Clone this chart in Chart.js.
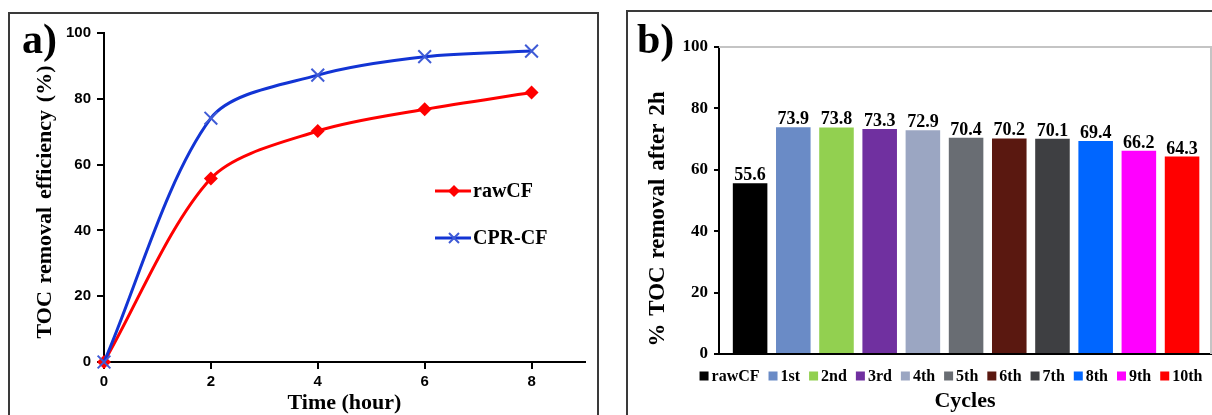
<!DOCTYPE html>
<html>
<head>
<meta charset="utf-8">
<script src="https://cdn.jsdelivr.net/npm/chart.js@4.4.0/dist/chart.umd.min.js"></script>
<style>
  body { margin: 0; background: #fff; width: 1212px; height: 415px; overflow: hidden; position: relative; }
  .panel { position: absolute; border: 2px solid #3a3a3a; box-sizing: border-box; }
  #panelA { left: 8px; top: 12px; width: 591px; height: 430px; }
  #panelB { left: 626px; top: 10px; width: 600px; height: 430px; }
  canvas { position: absolute; }
  #chartA { left: 11px; top: 15px; }
  #chartB { left: 629px; top: 13px; }
  .tag { position: absolute; font: bold 42px "Liberation Serif", serif; line-height: 42px; color: #000; }
</style>
</head>
<body>
<div class="panel" id="panelA"></div>
<div class="panel" id="panelB"></div>
<canvas id="chartA" width="585" height="400"></canvas>
<canvas id="chartB" width="583" height="402"></canvas>
<div class="tag" style="left:22px; top:18px;">a)</div>
<div class="tag" style="left:637px; top:18px;">b)</div>
<script>
// a) TOC removal vs time
const hours = [0, 2, 4, 6, 8];
const rawCF = [0, 55.8, 70.2, 76.8, 81.9];
const cprCF = [0, 74.1, 87.2, 92.8, 94.5];

// b) reuse cycles
const cycles = ['rawCF', '1st', '2nd', '3rd', '4th', '5th', '6th', '7th', '8th', '9th', '10th'];
const removal = [55.6, 73.9, 73.8, 73.3, 72.9, 70.4, 70.2, 70.1, 69.4, 66.2, 64.3];
const barColors = ['#000000', '#6a8bc6', '#92d050', '#7030a0', '#9ba6c2', '#696d73',
                   '#5a1810', '#3e3f42', '#0066ff', '#ff00ff', '#ff0000'];

const serif = '"Liberation Serif", "Times New Roman", serif';
const sans = '"Liberation Sans", Arial, sans-serif';

// rotated y title with stretched word gaps
function yTitle(id, text, x, y, size, len) {
  return {
    id: id,
    afterDraw(chart) {
      const ctx = chart.ctx;
      ctx.save();
      ctx.font = 'bold ' + size + 'px ' + serif;
      const gaps = text.split(' ').length - 1;
      const w = ctx.measureText(text).width;
      if (gaps > 0 && len > w) ctx.wordSpacing = ((len - w) / gaps) + 'px';
      ctx.translate(x, y);
      ctx.rotate(-Math.PI / 2);
      ctx.fillStyle = '#000';
      ctx.textAlign = 'center';
      ctx.textBaseline = 'middle';
      ctx.fillText(text, 0, 0);
      ctx.restore();
    }
  };
}

// legend for a): line with marker, then label
const legendA = {
  id: 'legendA',
  afterDraw(chart) {
    const ctx = chart.ctx;
    const rows = [{ ds: chart.data.datasets[0], y: 176 }, { ds: chart.data.datasets[1], y: 223 }];
    rows.forEach(r => {
      ctx.save();
      ctx.strokeStyle = r.ds.borderColor;
      ctx.lineWidth = 3;
      ctx.beginPath();
      ctx.moveTo(424, r.y);
      ctx.lineTo(460, r.y);
      ctx.stroke();
      const mx = 443;
      if (r.ds.pointStyle === 'rectRot') {
        ctx.fillStyle = r.ds.borderColor;
        ctx.beginPath();
        ctx.moveTo(mx - 6, r.y); ctx.lineTo(mx, r.y - 6);
        ctx.lineTo(mx + 6, r.y); ctx.lineTo(mx, r.y + 6);
        ctx.closePath();
        ctx.fill();
      } else {
        ctx.strokeStyle = r.ds.pointBorderColor;
        ctx.lineWidth = 2;
        ctx.beginPath();
        ctx.moveTo(mx - 5, r.y - 5); ctx.lineTo(mx + 5, r.y + 5);
        ctx.moveTo(mx + 5, r.y - 5); ctx.lineTo(mx - 5, r.y + 5);
        ctx.stroke();
      }
      ctx.fillStyle = '#000';
      ctx.font = 'bold 20px ' + serif;
      ctx.textBaseline = 'middle';
      ctx.fillText(r.ds.label, 462, r.y + 1);
      ctx.restore();
    });
  }
};

new Chart(document.getElementById('chartA'), {
  type: 'line',
  data: {
    datasets: [
      {
        label: 'rawCF',
        data: hours.map((h, i) => ({ x: h, y: rawCF[i] })),
        borderColor: '#ff0000',
        backgroundColor: '#ff0000',
        borderWidth: 3,
        tension: 0.3,
        pointStyle: 'rectRot',
        pointRadius: 7,
        pointBorderWidth: 0,
        pointBackgroundColor: '#ff0000',
        clip: false,
        order: 2
      },
      {
        label: 'CPR-CF',
        data: hours.map((h, i) => ({ x: h, y: cprCF[i] })),
        borderColor: '#1234d4',
        backgroundColor: '#1234d4',
        borderWidth: 3,
        tension: 0.3,
        pointStyle: 'crossRot',
        pointRadius: 9,
        pointBorderWidth: 2,
        pointBorderColor: '#3f5bd6',
        clip: false,
        order: 1
      }
    ]
  },
  options: {
    responsive: false,
    animation: false,
    layout: { padding: { top: 18, right: 5, left: 0, bottom: 0 } },
    plugins: { legend: { display: false }, tooltip: { enabled: false } },
    scales: {
      x: {
        type: 'linear',
        min: 0,
        max: 9,
        ticks: { stepSize: 2, padding: 4, color: '#000', font: { family: sans, weight: 'bold', size: 15 } },
        afterBuildTicks: s => { s.ticks = s.ticks.filter(t => t.value <= 8); },
        grid: { drawOnChartArea: false, tickLength: 7, color: '#000', lineWidth: 2 },
        border: { color: '#000', width: 2 },
        title: { display: true, text: 'Time (hour)', color: '#000',
                 font: { family: serif, weight: 'bold', size: 22, lineHeight: 1 }, padding: { top: 0, bottom: 1 } },
        afterFit: s => { s.height = 53; }
      },
      y: {
        min: 0,
        max: 100,
        ticks: { stepSize: 20, padding: 6, color: '#000', font: { family: sans, weight: 'bold', size: 15 } },
        grid: { drawOnChartArea: false, tickLength: 7, color: '#000', lineWidth: 2 },
        border: { color: '#000', width: 2 },
        afterFit: s => { s.width = 93; }
      }
    }
  },
  plugins: [legendA, yTitle('yTitleA', 'TOC removal efficiency (%)', 34, 187, 22, 273)]
});

// b) value labels above bars
const barLabels = {
  id: 'barLabels',
  afterDatasetsDraw(chart) {
    const ctx = chart.ctx;
    const meta = chart.getDatasetMeta(0);
    ctx.save();
    ctx.fillStyle = '#000';
    ctx.font = 'bold 18px ' + serif;
    ctx.textAlign = 'center';
    ctx.textBaseline = 'alphabetic';
    meta.data.forEach((bar, i) => {
      ctx.fillText(removal[i].toFixed(1), bar.x, bar.y - 3);
    });
    ctx.restore();
  }
};

// grey top/right frame of the plot area
const frameB = {
  id: 'frameB',
  beforeDatasetsDraw(chart) {
    const { ctx, chartArea: a } = chart;
    ctx.save();
    ctx.strokeStyle = '#c4c4c4';
    ctx.lineWidth = 2;
    ctx.beginPath();
    ctx.moveTo(a.left, a.top);
    ctx.lineTo(a.right, a.top);
    ctx.lineTo(a.right, a.bottom);
    ctx.stroke();
    ctx.restore();
  }
};

// legend row under the axis: small square + label
const legendB = {
  id: 'legendB',
  afterDraw(chart) {
    const ctx = chart.ctx;
    ctx.save();
    ctx.font = 'bold 16px ' + serif;
    ctx.textBaseline = 'middle';
    const box = 9, gap = 3, itemGap = 9;
    const widths = cycles.map(c => box + gap + ctx.measureText(c).width);
    const total = widths.reduce((a, b) => a + b, 0) + itemGap * (cycles.length - 1);
    let x = 322 - total / 2;
    const y = 363;
    cycles.forEach((c, i) => {
      ctx.fillStyle = barColors[i];
      ctx.fillRect(x, y - box / 2, box, box);
      ctx.fillStyle = '#000';
      ctx.fillText(c, x + box + gap, y + 1);
      x += widths[i] + itemGap;
    });
    ctx.restore();
  }
};

new Chart(document.getElementById('chartB'), {
  type: 'bar',
  data: {
    datasets: [{
      label: '% TOC removal after 2h',
      data: removal.map((v, i) => ({ x: i, y: v })),
      backgroundColor: barColors,
      barPercentage: 0.8,
      categoryPercentage: 1
    }]
  },
  options: {
    responsive: false,
    animation: false,
    layout: { padding: { top: 34, right: 1, left: 0, bottom: 0 } },
    plugins: { legend: { display: false }, tooltip: { enabled: false } },
    scales: {
      x: {
        type: 'linear',
        offset: false,
        min: -0.72,
        max: 10.67,
        ticks: { display: false },
        grid: { display: false },
        border: { color: '#000', width: 2 },
        title: { display: true, text: 'Cycles', color: '#000',
                 font: { family: serif, weight: 'bold', size: 22, lineHeight: 1 }, padding: { top: 0, bottom: 3 } },
        afterFit: s => { s.height = 61; }
      },
      y: {
        min: 0,
        max: 100,
        ticks: { stepSize: 20, padding: 6, color: '#000', font: { family: serif, weight: 'bold', size: 17 } },
        grid: { drawOnChartArea: false, tickLength: 5, color: '#000', lineWidth: 2 },
        border: { color: '#000', width: 2 },
        afterFit: s => { s.width = 90; }
      }
    }
  },
  plugins: [frameB, barLabels, legendB, yTitle('yTitleB', '% TOC removal after 2h', 29, 206, 23, 255)]
});
</script>
</body>
</html>
